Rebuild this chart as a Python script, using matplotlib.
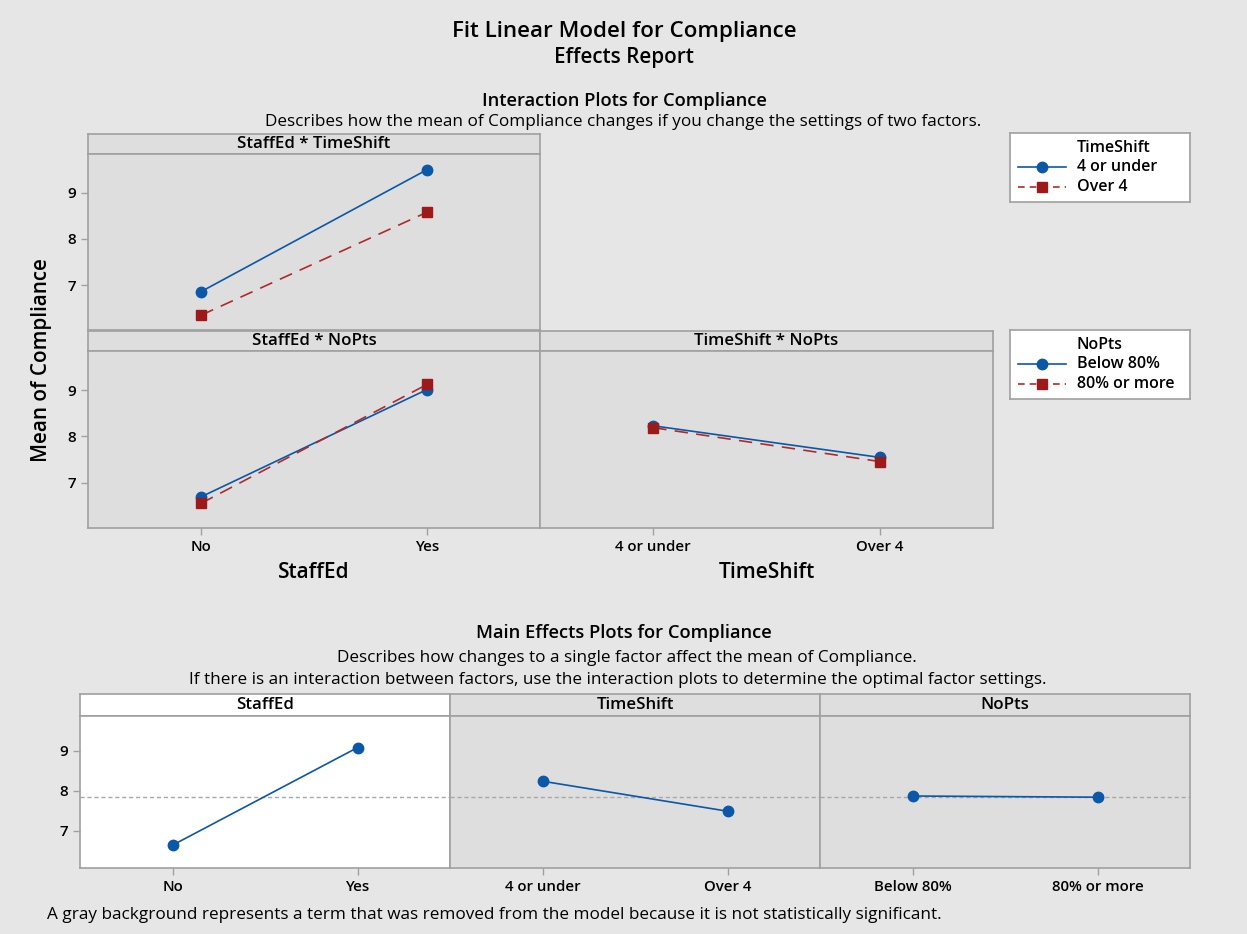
import matplotlib
matplotlib.use('Agg')
import matplotlib.pyplot as plt

plt.rcParams['font.family'] = ['Open Sans', 'DejaVu Sans']

# factor levels
staffed_levels = ['No', 'Yes']
timeshift_levels = ['4 or under', 'Over 4']
nopts_levels = ['Below 80%', '80% or more']

# interaction means
st_ts_4under = [6.86, 9.50]
st_ts_over4 = [6.35, 8.58]
st_np_below = [6.70, 9.01]
st_np_80more = [6.56, 9.12]
ts_np_below = [8.23, 7.55]
ts_np_80more = [8.19, 7.46]

# main effect means
main_staffed = [6.64, 9.08]
main_timeshift = [8.24, 7.49]
main_nopts = [7.87, 7.84]
grand_mean = 7.85

yticks = [7, 8, 9]

W, H = 1247, 934
FIG_BG = '#e6e6e6'
PANEL_BG = '#dedede'
EDGE = '#a0a0a0'
BLUE = '#0b57a8'
RED = '#9c1a1a'
RED_LINE = '#b02a2a'

fig = plt.figure(figsize=(W / 100, H / 100), dpi=100, facecolor=FIG_BG)


def px(x0, y0, x1, y1):
    return [x0 / W, 1 - y1 / H, (x1 - x0) / W, (y1 - y0) / H]


def strip(x0, y0, x1, y1, label, bg):
    ax = fig.add_axes(px(x0, y0, x1, y1))
    ax.set_facecolor(bg)
    ax.set_xticks([])
    ax.set_yticks([])
    for s in ax.spines.values():
        s.set_color(EDGE)
        s.set_linewidth(1.2)
    ax.text(0.5, 0.5, label, ha='center', va='center', fontsize=12.2,
            fontweight='semibold', transform=ax.transAxes)
    return ax


def panel(x0, y0, x1, y1, ylim, bg, labels=None, show_y=False):
    ax = fig.add_axes(px(x0, y0, x1, y1))
    ax.set_facecolor(bg)
    ax.set_xlim(-0.5, 1.5)
    ax.set_ylim(*ylim)
    for s in ax.spines.values():
        s.set_color(EDGE)
        s.set_linewidth(1.2)
    if labels is not None:
        ax.set_xticks([0, 1])
        ax.set_xticklabels(labels, fontsize=10.8, fontweight='semibold')
    else:
        ax.set_xticks([])
    if show_y:
        ax.set_yticks(yticks)
        ax.set_yticklabels([str(t) for t in yticks], fontsize=11, fontweight='semibold')
    else:
        ax.set_yticks([])
    ax.tick_params(colors=EDGE, labelcolor='black', length=5, width=1)
    return ax


def two_lines(ax, a, b):
    ax.plot([0, 1], a, color=BLUE, lw=1.2, marker='o', ms=7.5, mfc=BLUE, mec=BLUE, zorder=3)
    ax.plot([0, 1], b, color=RED_LINE, lw=1.2, ls=(0, (8, 5)), marker='s', ms=7.5,
            mfc=RED, mec=RED, zorder=4)


# --- interaction plots ---
ylim_top = (6.03, 9.84)
strip(88, 134, 540, 154, 'StaffEd * TimeShift', PANEL_BG)
ax1 = panel(88, 154, 540, 330, ylim_top, PANEL_BG, show_y=True)
two_lines(ax1, st_ts_4under, st_ts_over4)

strip(88, 331, 540, 351, 'StaffEd * NoPts', PANEL_BG)
ax2 = panel(88, 351, 540, 528, ylim_top, PANEL_BG, labels=staffed_levels, show_y=True)
two_lines(ax2, st_np_below, st_np_80more)

strip(540, 331, 993, 351, 'TimeShift * NoPts', PANEL_BG)
ax3 = panel(540, 351, 993, 528, ylim_top, PANEL_BG, labels=timeshift_levels)
two_lines(ax3, ts_np_below, ts_np_80more)


def legend_box(y0, title, entries):
    ax = fig.add_axes(px(1010, y0, 1190, y0 + 69))
    ax.set_xlim(0, 180)
    ax.set_ylim(69, 0)
    ax.set_facecolor('white')
    ax.set_xticks([])
    ax.set_yticks([])
    for s in ax.spines.values():
        s.set_color(EDGE)
        s.set_linewidth(1.2)
    ax.text(67, 15, title, fontsize=11.5, fontweight='semibold', va='center')
    ax.plot([8, 56], [34, 34], color=BLUE, lw=1.2)
    ax.plot([32], [34], marker='o', ms=7.5, color=BLUE)
    ax.text(67, 34, entries[0], fontsize=11.5, fontweight='semibold', va='center')
    ax.plot([8, 56], [54, 54], color=RED_LINE, lw=1.2, ls=(0, (4, 3)))
    ax.plot([32], [54], marker='s', ms=7.5, color=RED)
    ax.text(67, 54, entries[1], fontsize=11.5, fontweight='semibold', va='center')


legend_box(133, 'TimeShift', timeshift_levels)
legend_box(330, 'NoPts', nopts_levels)

# --- main effects plots ---
ylim_bot = (6.07, 9.87)
strip(80, 694, 450, 716, 'StaffEd', 'white')
strip(450, 694, 820, 716, 'TimeShift', PANEL_BG)
strip(820, 694, 1190, 716, 'NoPts', PANEL_BG)
m1 = panel(80, 716, 450, 868, ylim_bot, 'white', labels=staffed_levels, show_y=True)
m2 = panel(450, 716, 820, 868, ylim_bot, PANEL_BG, labels=timeshift_levels)
m3 = panel(820, 716, 1190, 868, ylim_bot, PANEL_BG, labels=nopts_levels)
for ax, vals in zip([m1, m2, m3], [main_staffed, main_timeshift, main_nopts]):
    ax.axhline(grand_mean, color='#a8a8a8', lw=1, ls=(0, (3, 2)), zorder=1)
    ax.plot([0, 1], vals, color=BLUE, lw=1.2, marker='o', ms=7.5, zorder=3)

# --- text ---
def ftext(x, y, s, **kw):
    fig.text(x / W, 1 - y / H, s, ha=kw.pop('ha', 'center'), va='center', **kw)


ftext(624, 31, 'Fit Linear Model for Compliance', fontsize=16.1, fontweight='semibold')
ftext(624, 58, 'Effects Report', fontsize=14.9, fontweight='semibold')
ftext(624, 101, 'Interaction Plots for Compliance', fontsize=13.2, fontweight='semibold')
ftext(623, 122, 'Describes how the mean of Compliance changes if you change the settings of two factors.',
      fontsize=12.3)
ftext(42, 360, 'Mean of Compliance', fontsize=14.9, fontweight='semibold', rotation=90)
ftext(314, 573, 'StaffEd', fontsize=15, fontweight='semibold')
ftext(767, 573, 'TimeShift', fontsize=15, fontweight='semibold')
ftext(624, 633, 'Main Effects Plots for Compliance', fontsize=13.2, fontweight='semibold')
ftext(627, 658, 'Describes how changes to a single factor affect the mean of Compliance.', fontsize=12.3)
ftext(618, 680, 'If there is an interaction between factors, use the interaction plots to determine the optimal factor settings.',
      fontsize=12.3)
ftext(47, 915, 'A gray background represents a term that was removed from the model because it is not statistically significant.',
      fontsize=12.3, ha='left')

fig.savefig('out.png', dpi=100, facecolor=FIG_BG)
